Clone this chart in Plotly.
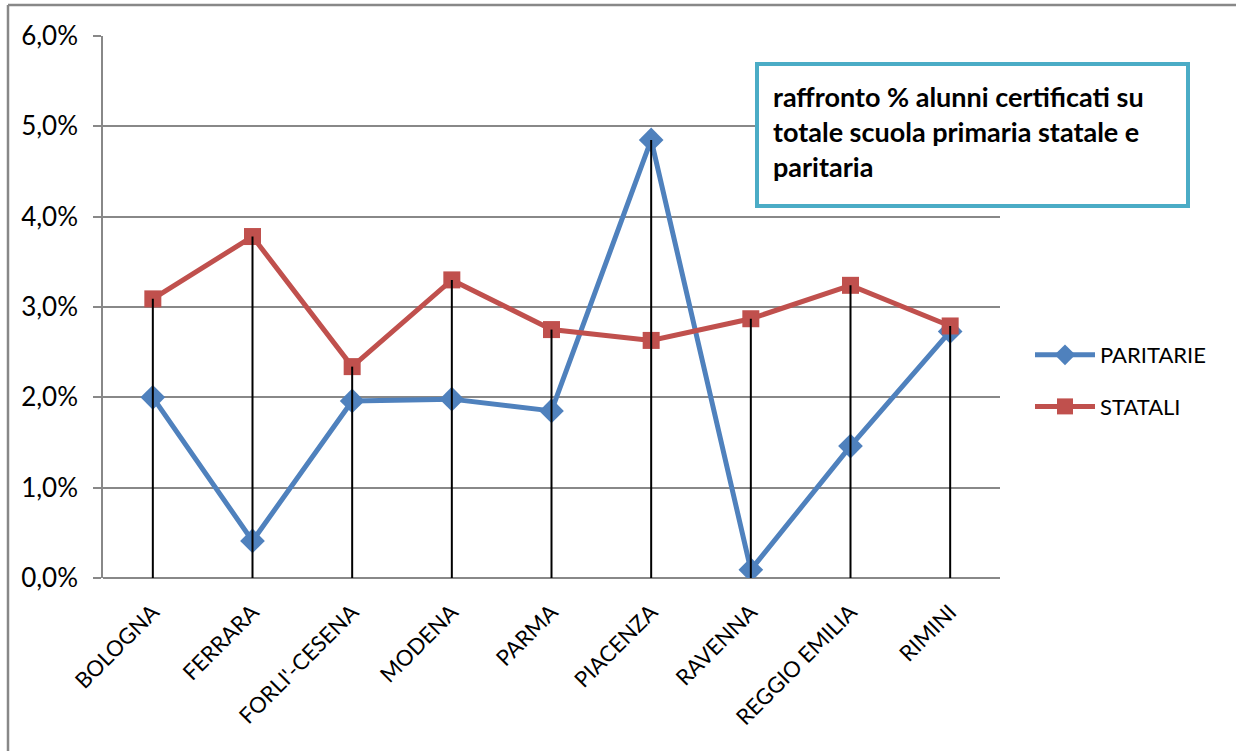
import plotly.graph_objects as go

categories = ["BOLOGNA", "FERRARA", "FORLI'-CESENA", "MODENA", "PARMA",
              "PIACENZA", "RAVENNA", "REGGIO EMILIA", "RIMINI"]
paritarie = [0.0200, 0.0041, 0.0196, 0.0198, 0.0185, 0.0485, 0.0009, 0.0146, 0.0273]
statali = [0.0309, 0.0378, 0.0234, 0.0330, 0.0275, 0.0263, 0.0287, 0.0324, 0.0279]
y_ticks = [0.0, 0.01, 0.02, 0.03, 0.04, 0.05, 0.06]
title_text = "raffronto % alunni certificati su<br>totale scuola primaria statale e<br>paritaria"

FONT = "Lato"
W, H = 1236, 751
L, R, T, B = 103, 1000, 36, 578

fig = go.Figure()

fig.add_trace(go.Scatter(
    x=categories, y=paritarie, name="PARITARIE", mode="lines+markers",
    legendgroup="p",
    line=dict(color="#4F81BD", width=5),
    marker=dict(symbol="diamond", size=19, color="#4F81BD"),
))
fig.add_trace(go.Scatter(
    x=categories, y=statali, name="STATALI", mode="lines+markers",
    legendgroup="s",
    line=dict(color="#C0504D", width=5),
    marker=dict(symbol="square", size=17, color="#C0504D"),
))

# drop lines from the highest point of each category to 0
dx, dy = [], []
for c, a, b in zip(categories, paritarie, statali):
    dx += [c, c, None]
    dy += [max(a, b), 0, None]
fig.add_trace(go.Scatter(
    x=dx, y=dy, mode="lines", line=dict(color="black", width=2),
    showlegend=False, hoverinfo="skip",
))

px = lambda v: (v - L) / (R - L)
py = lambda v: (B - v) / (B - T)

fig.update_layout(
    width=W, height=H,
    margin=dict(l=L, r=W - R, t=T, b=H - B, autoexpand=False),
    paper_bgcolor="white", plot_bgcolor="white",
    font=dict(family=FONT, size=22, color="black"),
    separators=",.",
    showlegend=True,
    legend=dict(x=px(1030), y=py(381), xanchor="left",
                yanchor="middle", font=dict(size=22), tracegroupgap=20,
                traceorder="grouped",
                itemwidth=60, bgcolor="rgba(0,0,0,0)"),
    xaxis=dict(
        type="category", categoryorder="array", categoryarray=categories,
        range=[-0.5, len(categories) - 0.5],
        tickangle=-45, showgrid=False, showline=False, ticks="",
        tickfont=dict(size=22), zeroline=False, ticklabelstandoff=16,
        automargin=False,
    ),
    yaxis=dict(
        range=[0, 0.06], tickvals=y_ticks, tickformat=".1%",
        showgrid=True, gridcolor="#888888", gridwidth=1.5,
        showline=True, linecolor="#888888", linewidth=1.5,
        ticks="outside", ticklen=8, tickcolor="#888888", tickwidth=1.5,
        zeroline=True, zerolinecolor="#888888", zerolinewidth=1.5,
        tickfont=dict(size=26), ticklabelstandoff=10, automargin=False,
    ),
    shapes=[
        dict(type="line", xref="paper", yref="paper",
             x0=px(8), x1=px(1240), y0=py(5), y1=py(5),
             line=dict(color="#888888", width=2.5), layer="below"),
        dict(type="line", xref="paper", yref="paper",
             x0=px(8), x1=px(8), y0=py(5), y1=py(760),
             line=dict(color="#888888", width=2.5), layer="below"),
    ],
    annotations=[dict(
        text="<b>" + title_text + "</b>", xref="paper", yref="paper",
        x=px(755), y=py(62),
        xanchor="left", yanchor="top", align="left", valign="top",
        showarrow=False, width=399, height=110,
        bgcolor="white", bordercolor="#4BACC6", borderwidth=4, borderpad=14,
        font=dict(size=27, family=FONT, color="black"),
    )],
)

fig.write_html("out.html", config={"displayModeBar": False},
               post_script="document.body.style.margin='0';")
